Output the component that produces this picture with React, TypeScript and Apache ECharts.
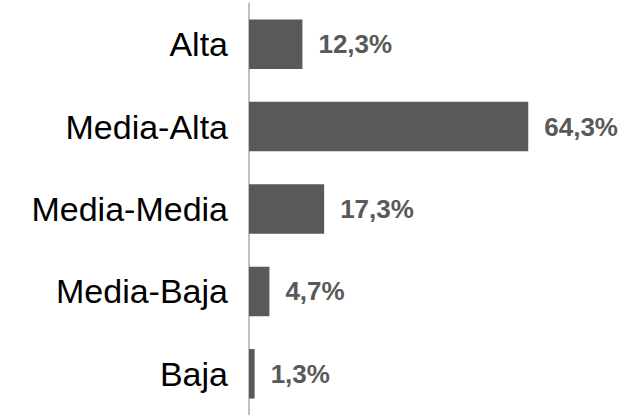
import React, { useEffect, useRef } from "react";
import * as echarts from "echarts";

const categories = ["Alta", "Media-Alta", "Media-Media", "Media-Baja", "Baja"];
const values = [12.3, 64.3, 17.3, 4.7, 1.3];

export default function App() {
  const ref = useRef<HTMLDivElement>(null);
  useEffect(() => {
    if (!ref.current) return;
    const chart = echarts.init(ref.current, null, { renderer: "svg" });
    chart.setOption({
      animation: false,
      grid: { left: 249, top: 3, width: 304, height: 414 },
      xAxis: { type: "value", min: 0, max: 70, show: false },
      yAxis: {
        type: "category",
        data: categories,
        inverse: true,
        axisTick: { show: false },
        axisLine: { show: true, lineStyle: { color: "#ababab", width: 1.5 } },
        axisLabel: {
          color: "#000000",
          fontSize: 34,
          fontFamily: "Liberation Sans, Arial, sans-serif",
          margin: 21,
        },
        splitLine: { show: false },
      },
      series: [
        {
          type: "bar",
          data: values,
          barWidth: 49.5,
          itemStyle: { color: "#595959" },
          label: {
            show: true,
            position: "right",
            distance: 16,
            color: "#595959",
            fontWeight: "bold",
            fontSize: 26,
            fontFamily: "Liberation Sans, Arial, sans-serif",
            formatter: (p: any) => p.value.toFixed(1).replace(".", ",") + "%",
          },
        },
      ],
    });
    return () => chart.dispose();
  }, []);
  return (
    <div
      ref={ref}
      style={{ position: "fixed", left: 0, top: 0, width: 633, height: 415, background: "#fff" }}
    />
  );
}
